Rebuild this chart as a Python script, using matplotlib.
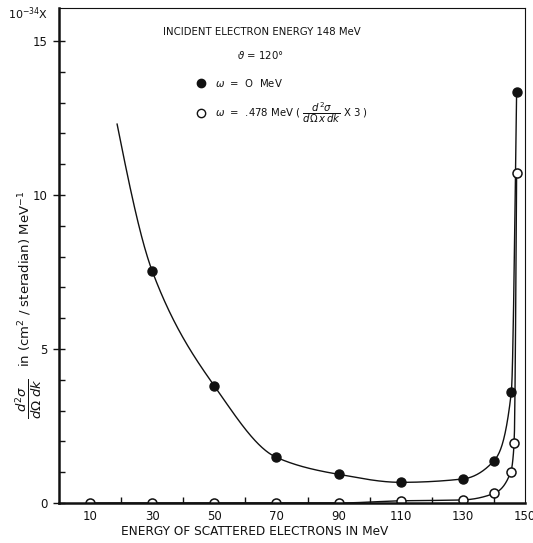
import numpy as np
import matplotlib
matplotlib.use("Agg")
import matplotlib.pyplot as plt
import matplotlib.patches as mpatches

# ------------------------------------------------------------------ #
# Data (y in units of 10^-34 cm^2/sr/MeV)
# ------------------------------------------------------------------ #
e_full = [30, 50, 70, 90, 110, 130, 140, 145.6, 147.3]
xs_full = [7.53, 3.80, 1.48, 0.93, 0.67, 0.78, 1.37, 3.60, 13.35]
full_curve_start = (18.7, 12.3)  # where the hand-drawn curve begins

e_open = [10, 30, 50, 70, 90, 110, 130, 140, 145.4, 146.5, 147.3]
xs_open = [0, 0, 0, 0, 0, 0.07, 0.10, 0.31, 1.00, 1.95, 10.70]

x_label_ticks = [10, 30, 50, 70, 90, 110, 130, 150]
x_minor_ticks = [20, 40, 60, 80, 100, 120, 140]
y_label_ticks = [0, 5, 10, 15]

INK = "#111111"


def pchip(x, y, xn):
    """Shape preserving cubic through the points, used only to draw the smooth line."""
    x = np.asarray(x, float)
    y = np.asarray(y, float)
    h = np.diff(x)
    d = np.diff(y) / h
    m = np.zeros_like(y)
    for k in range(1, len(x) - 1):
        if d[k - 1] * d[k] <= 0:
            m[k] = 0.0
        else:
            w1 = 2 * h[k] + h[k - 1]
            w2 = h[k] + 2 * h[k - 1]
            m[k] = (w1 + w2) / (w1 / d[k - 1] + w2 / d[k])
    m[0] = ((2 * h[0] + h[1]) * d[0] - h[0] * d[1]) / (h[0] + h[1])
    if np.sign(m[0]) != np.sign(d[0]):
        m[0] = 0.0
    m[-1] = ((2 * h[-1] + h[-2]) * d[-1] - h[-1] * d[-2]) / (h[-1] + h[-2])
    if np.sign(m[-1]) != np.sign(d[-1]):
        m[-1] = 0.0
    idx = np.clip(np.searchsorted(x, xn) - 1, 0, len(x) - 2)
    t = (xn - x[idx]) / h[idx]
    h00 = 2 * t**3 - 3 * t**2 + 1
    h10 = t**3 - 2 * t**2 + t
    h01 = -2 * t**3 + 3 * t**2
    h11 = t**3 - t**2
    return h00 * y[idx] + h10 * h[idx] * m[idx] + h01 * y[idx + 1] + h11 * h[idx] * m[idx + 1]


fig = plt.figure(figsize=(5.33, 5.43), dpi=100, facecolor="white")
ax = fig.add_axes([0.1107, 0.0737, 0.8743, 0.9116])
ax.set_xlim(0, 150)
ax.set_ylim(0, 16.07)

# smooth curves
kx = [full_curve_start[0]] + e_full
ky = [full_curve_start[1]] + xs_full
xx = np.linspace(kx[0], kx[-1], 800)
ax.plot(xx, pchip(kx, ky, xx), color=INK, lw=1.0, zorder=2)

xx2 = np.linspace(e_open[0], e_open[-1], 800)
ax.plot(xx2, pchip(e_open, xs_open, xx2), color=INK, lw=1.0, zorder=2)

# markers
ax.plot(e_open, xs_open, "o", ms=6.5, mfc="white", mec=INK, mew=1.1, zorder=2.2)
ax.plot(e_full, xs_full, "o", ms=6.5, mfc=INK, mec=INK, zorder=4)

# white strip under the axis so the open circles sitting on it show only their top half
ax.add_patch(mpatches.Rectangle((0, 0), 1, -0.013, transform=ax.transAxes,
                                facecolor="white", edgecolor="none",
                                clip_on=False, zorder=2.3))
ax.xaxis.set_zorder(3)
ax.yaxis.set_zorder(3)

# spines
for side in ("left", "bottom"):
    ax.spines[side].set_linewidth(1.8)
    ax.spines[side].set_zorder(3)
for side in ("top", "right"):
    ax.spines[side].set_linewidth(0.8)
for s in ax.spines.values():
    s.set_color(INK)

# ticks
ax.set_xticks(x_label_ticks)
ax.set_xticks(x_minor_ticks, minor=True)
ax.tick_params(axis="x", which="major", length=0, pad=5, labelsize=8.5, colors=INK)
ax.tick_params(axis="x", which="minor", direction="in", length=4, width=1.0, color=INK)

ax.set_yticks(y_label_ticks)
ax.set_yticks(np.arange(0, 16, 1), minor=True)
ax.tick_params(axis="y", which="major", direction="inout", length=8, width=1.0,
               pad=4, labelsize=8.5, colors=INK)
ax.tick_params(axis="y", which="minor", direction="in", length=4, width=1.0, color=INK)

# annotations inside the frame
ax.text(0.223, 0.951, "INCIDENT ELECTRON ENERGY 148 MeV", transform=ax.transAxes,
        fontsize=7.3, color=INK, va="center", ha="left")
ax.text(0.382, 0.905, r"$\vartheta$ = 120°", transform=ax.transAxes,
        fontsize=7.3, color=INK, va="center", ha="left")
ax.plot([0.305], [0.848], "o", ms=6, mfc=INK, mec=INK, transform=ax.transAxes,
        clip_on=False)
ax.text(0.335, 0.848, r"$\omega$  =  O  MeV", transform=ax.transAxes,
        fontsize=7.3, color=INK, va="center", ha="left")
ax.plot([0.305], [0.788], "o", ms=6, mfc="white", mec=INK, mew=1.0,
        transform=ax.transAxes, clip_on=False)
ax.text(0.335, 0.788,
        r"$\omega$  =  .478 MeV ( $\dfrac{d^2\sigma}{d\Omega\,x\,dk}$ X 3 )",
        transform=ax.transAxes, fontsize=7.3, color=INK, va="center", ha="left")

# outer labels
fig.text(0.015, 0.974, r"10$^{-34}$X", fontsize=8, color=INK, va="center", ha="left")
fig.text(0.054, 0.265, r"$\dfrac{d^2\sigma}{d\Omega\;dk}$",
         rotation=90, fontsize=9.5, color=INK, va="center", ha="center")
fig.text(0.047, 0.486, r"in (cm$^2$ / steradian) MeV$^{-1}$",
         rotation=90, fontsize=9.5, color=INK, va="center", ha="center")
fig.text(0.478, 0.021, "ENERGY OF SCATTERED ELECTRONS IN MeV", fontsize=8.7,
         color=INK, va="center", ha="center")

fig.savefig("out.png", dpi=100, facecolor="white")
